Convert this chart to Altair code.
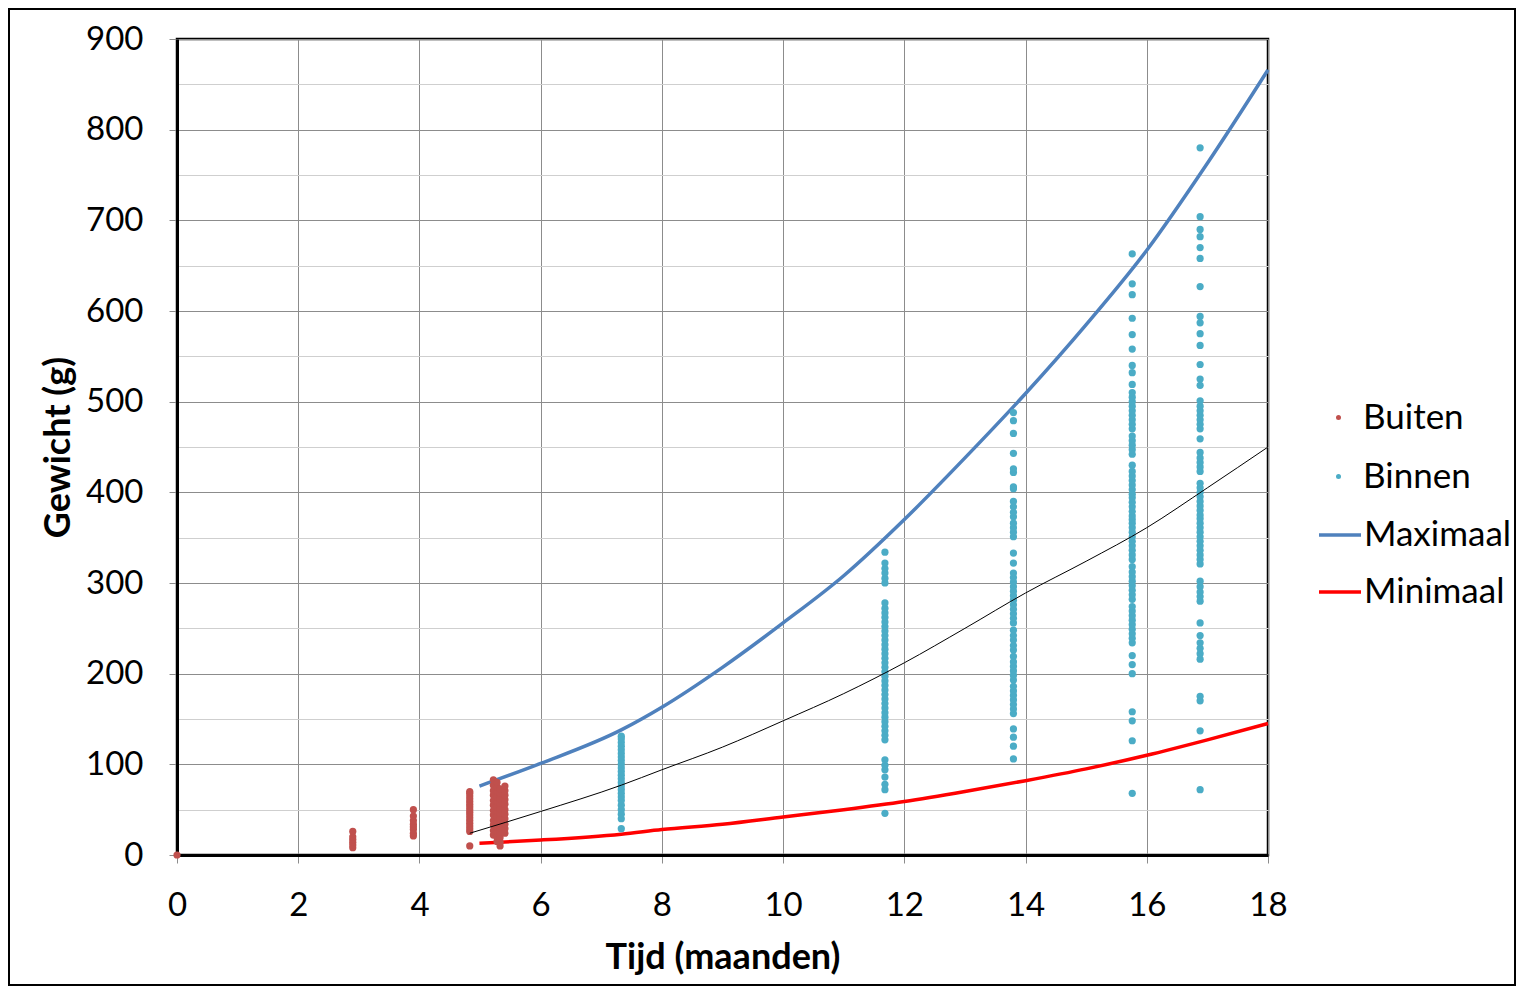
import altair as alt
import pandas as pd

# ---------------- data ----------------
# Buiten (outdoor) measurements: x position (months) and weights (g)
buiten_x = [0.0, 2.9, 3.9, 4.83, 5.22, 5.28, 5.33, 5.41]
buiten_w = [
    [0],
    [8, 11, 14, 17, 20, 26],
    [21, 24, 28, 31, 34, 38, 43, 50],
    [10, 26, 29, 32, 35, 38, 41, 44, 47, 50, 53, 56, 59, 62, 65, 68, 70],
    [22, 27, 33, 38, 44, 49, 55, 60, 66, 71, 77, 83],
    [15, 20, 26, 31, 37, 42, 48, 53, 59, 64, 70, 75, 80],
    [10, 14, 19, 25, 30, 35, 40, 46, 51, 57, 62, 68, 73],
    [24, 29, 34, 40, 45, 50, 56, 61, 66, 71, 76],
]

# Binnen (indoor) measurements
binnen_x = [7.33, 11.68, 13.8, 15.76, 16.88]
binnen_w = [
    [29, 40, 45, 50, 55, 60, 64, 68, 72, 76, 80, 84, 88, 92, 96, 100, 104, 108,
     112, 116, 120, 124, 128, 131],
    [46, 72, 78, 86, 94, 99, 105, 127, 132, 137, 142, 147, 152, 157, 162, 167,
     172, 177, 182, 187, 192, 197, 202, 207, 212, 217, 222, 227, 232, 237, 242,
     247, 252, 257, 262, 267, 272, 278, 300, 305, 311, 316, 322, 334],
    [106, 120, 130, 139, 156, 161, 166, 171, 176, 181, 186, 193, 198, 203, 208,
     213, 219, 226, 231, 237, 242, 248, 256, 261, 266, 271, 276, 281, 286, 291,
     296, 301, 306, 311, 322, 333, 351, 356, 361, 366, 373, 378, 384, 390, 404,
     406, 422, 426, 443, 465, 479, 488],
    [68, 126, 148, 158, 200, 210, 220, 234, 239, 244, 249, 254, 259, 264, 269,
     274, 282, 287, 292, 297, 302, 307, 312, 318, 326, 331, 336, 341, 346, 351,
     356, 361, 366, 370, 374, 379, 384, 389, 394, 398, 403, 408, 413, 418, 423,
     430, 442, 447, 452, 457, 462, 470, 475, 480, 485, 490, 495, 500, 505, 510,
     519, 532, 540, 558, 574, 592, 618, 630, 663],
    [72, 137, 170, 175, 216, 222, 228, 234, 242, 256, 280, 285, 290, 296, 302,
     321, 326, 331, 336, 341, 346, 351, 356, 361, 366, 371, 375, 380, 385, 390,
     395, 400, 405, 410, 423, 428, 433, 438, 444, 459, 470, 475, 480, 485, 490,
     495, 501, 518, 525, 541, 562, 575, 587, 594, 627, 658, 670, 682, 690, 704,
     780],
]

# Envelope curves
curve_x = [4.99, 6, 7.33, 8, 9, 10, 11, 12, 13, 14, 15, 16, 17, 18]
max_y = [76, 101, 138, 163, 207, 256, 308, 370, 438, 509, 585, 667, 763, 866]
min_y = [13, 16.5, 23, 28, 34, 42, 50, 59, 70, 82, 95, 110, 127, 145]

# Trend line (thin black)
trend_x = [4.83, 6, 7.33, 8, 9, 10, 11, 12, 13, 14, 15, 16, 17, 18]
trend_y = [24, 48, 77, 94, 119, 148, 178, 212, 250, 289, 324, 361, 405, 450]

x_ticks = [0, 2, 4, 6, 8, 10, 12, 14, 16, 18]
y_ticks = list(range(0, 901, 50))

point_series = ["Buiten", "Binnen"]
point_colors = ["#C0504D", "#4BACC6"]
line_series = ["Maximaal", "Minimaal"]
line_colors = ["#4F81BD", "#FF0000"]

# ---------------- tables ----------------
rows = []
for xv, ws in zip(buiten_x, buiten_w):
    for w in ws:
        rows.append({"x": xv, "y": w, "series": "Buiten"})
for xv, ws in zip(binnen_x, binnen_w):
    for w in ws:
        rows.append({"x": xv, "y": w, "series": "Binnen"})
pts = pd.DataFrame(rows)

curves = pd.DataFrame(
    [{"x": a, "y": b, "series": "Maximaal"} for a, b in zip(curve_x, max_y)]
    + [{"x": a, "y": b, "series": "Minimaal"} for a, b in zip(curve_x, min_y)]
)
trend = pd.DataFrame({"x": trend_x, "y": trend_y})

FONT = "Lato"
W, H = 1091, 816

xenc = alt.X(
    "x:Q",
    scale=alt.Scale(domain=[0, 18], nice=False),
    axis=alt.Axis(
        values=x_ticks,
        title="Tijd (maanden)",
        grid=True,
        gridColor="#8c8c8c",
        gridWidth=1,
        domainColor="black",
        domainWidth=3,
        tickColor="#8c8c8c",
        tickSize=8,
        tickWidth=1,
        labelFont=FONT,
        labelFontSize=33,
        labelColor="black",
        labelPadding=26,
        labelFlush=False,
        titleFont=FONT,
        titleFontSize=36,
        titleFontWeight="bold",
        titleColor="black",
        titleX=W / 2,
        titleY=102,
        titleBaseline="middle",
    ),
)
yenc = alt.Y(
    "y:Q",
    scale=alt.Scale(domain=[0, 900], nice=False),
    axis=alt.Axis(
        values=y_ticks,
        title="Gewicht (g)",
        grid=True,
        gridColor=alt.condition("datum.value % 100 == 0", alt.value("#8c8c8c"), alt.value("#cfcfcf")),
        gridWidth=1,
        domainColor="black",
        domainWidth=3,
        tickColor="#8c8c8c",
        tickOpacity=alt.condition("datum.value % 100 == 0", alt.value(1), alt.value(0)),
        tickSize=8,
        tickWidth=1,
        labelExpr="datum.value % 100 == 0 ? datum.label : ''",
        labelFont=FONT,
        labelFontSize=33,
        labelColor="black",
        labelPadding=26,
        labelFlush=False,
        titleFont=FONT,
        titleFontSize=36,
        titleFontWeight="bold",
        titleColor="black",
        titleAngle=270,
        titleX=-119,
        titleY=H / 2,
        titleBaseline="middle",
    ),
)

curve_layer = alt.Chart(curves).mark_line(strokeWidth=3.5, interpolate="monotone").encode(
    x=xenc,
    y=yenc,
    stroke=alt.Stroke(
        "series:N",
        scale=alt.Scale(domain=line_series, range=line_colors),
        legend=alt.Legend(
            title=None,
            orient="none",
            legendX=1140,
            legendY=473,
            padding=0,
            symbolType="stroke",
            symbolSize=1764,
            symbolStrokeWidth=3.5,
            labelFont=FONT,
            labelFontSize=35,
            labelColor="black",
            labelOffset=1,
            rowPadding=16,
        ),
    ),
)

point_layer = alt.Chart(pts).mark_circle(size=52, opacity=1).encode(
    x=xenc,
    y=yenc,
    fill=alt.Fill(
        "series:N",
        scale=alt.Scale(domain=point_series, range=point_colors),
        legend=alt.Legend(
            title=None,
            orient="none",
            legendX=1144,
            legendY=361,
            padding=0,
            symbolType="circle",
            symbolSize=25,
            symbolStrokeWidth=0,
            labelFont=FONT,
            labelFontSize=35,
            labelColor="black",
            labelOffset=7,
            rowPadding=23,
        ),
    ),
)

trend_layer = alt.Chart(trend).mark_line(color="black", strokeWidth=1, interpolate="monotone").encode(
    x=xenc, y=yenc
)

frame = alt.Chart(pd.DataFrame({"a": [0]})).mark_rect(
    fill="white", fillOpacity=0, stroke="black", strokeWidth=2
).encode(
    x=alt.value(-168), x2=alt.value(1338), y=alt.value(-30), y2=alt.value(946)
)

chart = (
    alt.layer(frame, curve_layer, point_layer, trend_layer)
    .resolve_scale(fill="independent", stroke="independent")
    .properties(
        width=W,
        height=H,
        autosize=alt.AutoSizeParams(type="none"),
        padding={"left": 169, "top": 31, "right": 248, "bottom": 132},
        background="white",
    )
    .configure_view(stroke="black", strokeWidth=2.5)
)

chart.save("out.html", embed_options={"renderer": "svg", "actions": False})
